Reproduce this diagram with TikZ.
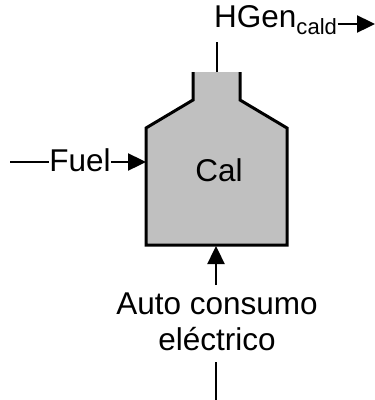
\documentclass[tikz,border=0pt]{standalone}
\usepackage{fontspec}
\setmainfont{Liberation Sans}
\usetikzlibrary{arrows.meta}
\definecolor{boilgray}{HTML}{C0C0C0}
\begin{document}
\begin{tikzpicture}[x=1pt,y=-1pt,
  lbl/.style={inner sep=0pt,font=\fontsize{31.5}{36}\selectfont},
  conn/.style={line width=2.4pt},
  arr/.style={conn,-{Triangle[length=18pt,width=17pt]}},
  outline/.style={line width=3pt,line join=miter}]
\useasboundingbox (0,0) rectangle (375,400);
% boiler body
\fill[boilgray] (193,72) -- (193,100) -- (146,128) -- (146,245) -- (287,245) -- (287,128) -- (240,100) -- (240,72) -- cycle;
\draw[outline] (193,72) -- (193,100) -- (146,128) -- (146,245) -- (287,245) -- (287,128) -- (240,100) -- (240,72);
\node[lbl] (cal) at (219,170) {Cal};
\coordinate (neck) at (217,72);
\coordinate (bodyw) at (146,162);
\coordinate (bodys) at (216,246);
% top output
\node[lbl,anchor=base west] (hgen) at (214,27) {HGen\textsubscript{cald}};
\coordinate (hgenfoot) at (217,42);
\coordinate (outend) at (375,24);
\draw[conn] (neck) -- (hgenfoot);
\draw[arr] (hgen.east |- outend) -- (outend);
% fuel input
\node[lbl] (fuel) at (80,160) {Fuel};
\coordinate (fuelstart) at (10,162);
\draw[conn] (fuelstart) -- (fuel.west |- fuelstart);
\draw[arr] (fuel.east |- fuelstart) -- (bodyw);
% bottom input
\node[lbl,align=center] (auto) at (217,322) {Auto consumo\\eléctrico};
\coordinate (autoarrow) at (216,285);
\coordinate (autolow) at (216,362);
\coordinate (bottom) at (216,400);
\draw[arr] (autoarrow) -- (bodys);
\draw[conn] (autolow) -- (bottom);
\end{tikzpicture}
\end{document}
